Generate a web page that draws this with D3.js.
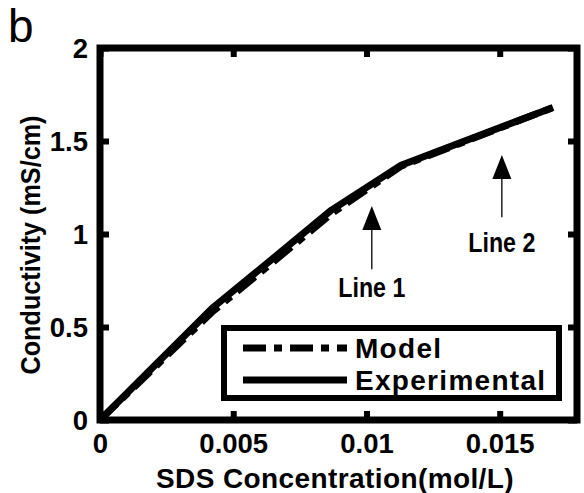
<!DOCTYPE html>
<html>
<head>
<meta charset="utf-8">
<script src="https://cdn.jsdelivr.net/npm/d3@7"></script>
<style>
  body { margin: 0; background: #fff; }
  text { font-family: "Liberation Sans", Arial, sans-serif; fill: #000; }
</style>
</head>
<body>
<svg width="584" height="493"></svg>
<script>
// data
var concExp   = [0, 0.0042, 0.0065, 0.0087, 0.0113, 0.0170];
var condExp   = [0, 0.60, 0.87, 1.13, 1.37, 1.68];
var concModel = [0, 0.0042, 0.0065, 0.0087, 0.0113, 0.0170];
var condModel = [0, 0.58, 0.85, 1.11, 1.365, 1.68];

var xTicks = [0, 0.005, 0.01, 0.015];
var xTickLabels = ["0", "0.005", "0.01", "0.015"];
var yTicks = [0, 0.5, 1, 1.5, 2];
var yTickLabels = ["0", "0.5", "1", "1.5", "2"];

var seriesNames = ["Model", "Experimental"];

// arrows: x, tip y, tail y, label y, label
var arrowX = [0.0102, 0.01508];
var arrowTip = [1.15, 1.425];
var arrowTail = [0.81, 1.09];
var arrowLabelY = [0.66, 0.905];
var arrowLabels = ["Line 1", "Line 2"];

var svg = d3.select("svg");
var sx = 0.86; // the original lettering is a bit narrow

var x = d3.scaleLinear().domain([0, 0.0179]).range([100, 577]);
var y = d3.scaleLinear().domain([0, 2]).range([420, 48]);

// axes (ticks inward on all four sides)
var xAxis = svg.append("g").attr("transform", "translate(0,420)")
    .call(d3.axisBottom(x).tickValues(xTicks).tickSize(-9).tickPadding(13)
      .tickFormat(function(d, i) { return xTickLabels[i]; }));
var xAxisTop = svg.append("g").attr("transform", "translate(0,48)")
    .call(d3.axisTop(x).tickValues(xTicks).tickSize(-9).tickFormat(""));
var yAxis = svg.append("g").attr("transform", "translate(100,0)")
    .call(d3.axisLeft(y).tickValues(yTicks).tickSize(-9).tickPadding(12)
      .tickFormat(function(d, i) { return yTickLabels[i]; }));
var yAxisRight = svg.append("g").attr("transform", "translate(577,0)")
    .call(d3.axisRight(y).tickValues(yTicks).tickSize(-9).tickFormat(""));

svg.selectAll(".domain").remove();
svg.selectAll(".tick line").attr("stroke", "#000").attr("stroke-width", 6);
svg.selectAll(".tick text")
    .attr("font-size", 27.5).attr("font-weight", "bold")
    .attr("font-family", "Liberation Sans, Arial, sans-serif");
xAxis.selectAll(".tick text").attr("dy", "0.72em");
yAxis.selectAll(".tick text").attr("dy", "0.36em");

// lines
var line = d3.line().x(function(d) { return x(d[0]); }).y(function(d) { return y(d[1]); });
var modelPts = concModel.map(function(c, i) { return [c, condModel[i]]; });
var expPts = concExp.map(function(c, i) { return [c, condExp[i]]; });

svg.append("path").datum(modelPts).attr("d", line)
    .attr("fill", "none").attr("stroke", "#000").attr("stroke-width", 7)
    .attr("stroke-dasharray", "23,8,8,8");
svg.append("path").datum(expPts).attr("d", line)
    .attr("fill", "none").attr("stroke", "#000").attr("stroke-width", 7)
    .attr("stroke-linejoin", "round");

// frame
svg.append("rect").attr("x", 100).attr("y", 48).attr("width", 477).attr("height", 372)
    .attr("fill", "none").attr("stroke", "#000").attr("stroke-width", 7);

// arrows
arrowX.forEach(function(ax, i) {
  var px = x(ax), tip = y(arrowTip[i]);
  svg.append("line").attr("x1", px).attr("x2", px)
      .attr("y1", tip + 20).attr("y2", y(arrowTail[i]))
      .attr("stroke", "#000").attr("stroke-width", 1.3);
  svg.append("path")
      .attr("d", "M" + px + "," + tip + "L" + (px + 9.5) + "," + (tip + 24) + "L" + (px - 9.5) + "," + (tip + 24) + "Z")
      .attr("fill", "#000");
  svg.append("text")
      .attr("transform", "translate(" + px + "," + y(arrowLabelY[i]) + ") scale(" + sx + ",1)")
      .attr("text-anchor", "middle").attr("font-size", 27).attr("font-weight", "bold")
      .text(arrowLabels[i]);
});

// legend
var leg = svg.append("g");
leg.append("rect").attr("x", 224).attr("y", 328).attr("width", 335).attr("height", 70)
    .attr("fill", "#fff").attr("stroke", "#000").attr("stroke-width", 6);
var legY = [348, 380];
seriesNames.forEach(function(name, i) {
  leg.append("line").attr("x1", 243).attr("x2", 347).attr("y1", legY[i]).attr("y2", legY[i])
      .attr("stroke", "#000").attr("stroke-width", 7)
      .attr("stroke-dasharray", i === 0 ? "23,8,8,8" : null);
  leg.append("text")
      .attr("transform", "translate(355," + (legY[i] + 10) + ")")
      .attr("font-size", 28).attr("font-weight", "bold").attr("letter-spacing", 1.3)
      .text(name);
});

// axis titles and panel letter
svg.append("text")
    .attr("transform", "translate(335,488)")
    .attr("text-anchor", "middle").attr("font-size", 28).attr("font-weight", "bold")
    .attr("letter-spacing", 0.4)
    .text("SDS Concentration(mol/L)");
svg.append("text")
    .attr("transform", "translate(40,245) rotate(-90) scale(0.9,1)")
    .attr("text-anchor", "middle").attr("font-size", 28).attr("font-weight", "bold")
    .text("Conductivity (mS/cm)");
svg.append("text").attr("x", 8).attr("y", 42)
    .attr("font-size", 46).text("b");
</script>
</body>
</html>
